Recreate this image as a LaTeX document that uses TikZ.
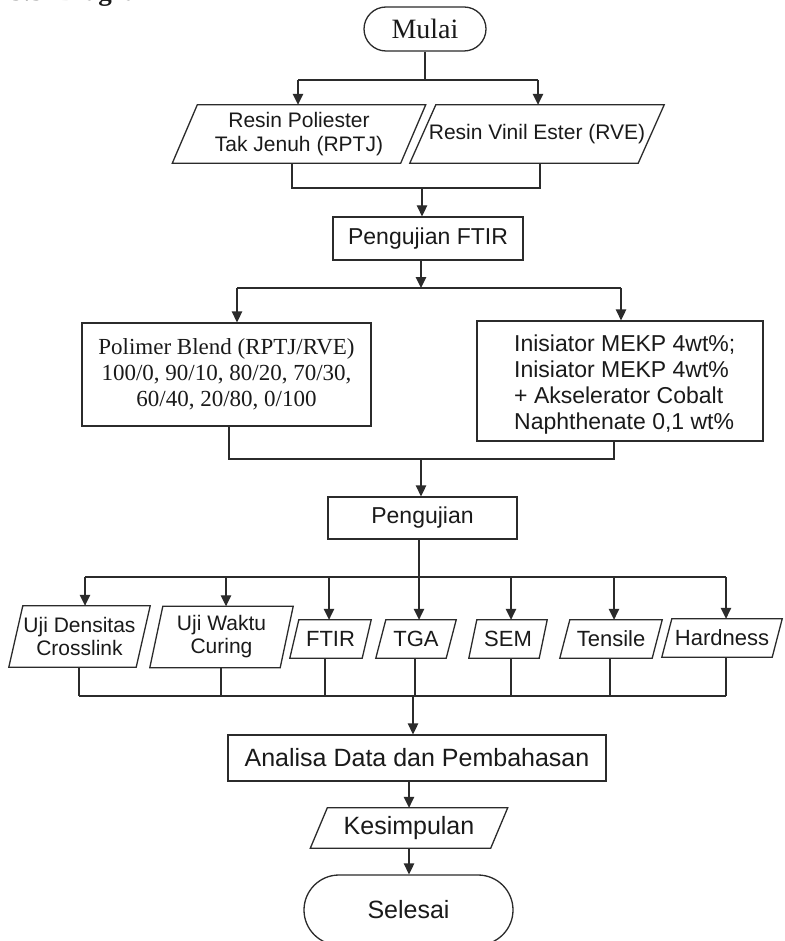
\documentclass[tikz,border=0pt]{standalone}
\usepackage{fontspec}
\setmainfont{Liberation Sans}
\newfontfamily\tnr{Liberation Serif}
\usetikzlibrary{arrows.meta,calc}
\definecolor{lc}{HTML}{2B2B2B}
\definecolor{tc}{HTML}{1A1A1A}
\newcommand\fsz[2]{\fontsize{#1}{#2}\selectfont}
\newcommand\pgram[2]{\draw[ln] ([xshift=#2*0.5pt]#1.north west) -- ([xshift=#2*0.5pt]#1.north east) -- ([xshift=-#2*0.5pt]#1.south east) -- ([xshift=-#2*0.5pt]#1.south west) -- cycle;}
\begin{document}
\begin{tikzpicture}[x=1pt,y=-1pt,
  ln/.style={line width=1.3pt,draw=lc},
  arr/.style={ln,-{Triangle[length=11pt,width=10.5pt]}},
  box/.style={draw=lc,line width=1.3pt,rectangle,inner sep=0pt,text=tc,align=center},
  term/.style={box},
  pg/.style={rectangle,inner sep=0pt,text=tc,align=center}]
\fill[white] (0,0) rectangle (784,941);
\useasboundingbox (0,0) rectangle (784,941);

% partially visible heading
\node[anchor=base west,inner sep=0pt,font=\tnr\bfseries\fsz{27}{30},text=tc] (head) at (10,0.5) {3.3\hspace{14pt}Diagram};

% nodes
\node[term,minimum width=122pt,minimum height=44pt,rounded corners=22pt,font=\tnr\fsz{28}{30}] (mulai) at (425,29) {Mulai};

\node[pg,minimum width=228pt,minimum height=58pt,font=\fsz{21}{24}] (p1) at (299,134) {Resin Poliester\\Tak Jenuh (RPTJ)};
\pgram{p1}{25}
\node[pg,minimum width=228pt,minimum height=58pt,font=\fsz{21}{24}] (p2) at (537,134) {Resin Vinil Ester (RVE)};
\pgram{p2}{26}

\node[box,minimum width=190pt,minimum height=43pt,font=\fsz{23}{26}] (ftir) at (428,238.5) {Pengujian FTIR};

\node[box,minimum width=289pt,minimum height=103pt,font=\tnr\fsz{23}{26}] (blend) at (226.5,374.5) {Polimer Blend (RPTJ/RVE)\\100/0, 90/10, 80/20, 70/30,\\60/40, 20/80, 0/100};
\node[box,minimum width=286pt,minimum height=120pt] (inis) at (620,381) {};
\node[anchor=west,inner sep=0pt,align=left,text=tc,font=\fsz{23}{26}] (inistext) at (514,385) {Inisiator MEKP 4wt\%;\\Inisiator MEKP 4wt\%\\+ Akselerator Cobalt\\Naphthenate 0,1 wt\%};

\node[box,minimum width=189pt,minimum height=42pt,font=\fsz{23}{26}] (peng) at (422.5,518) {Pengujian};

\node[pg,minimum width=127pt,minimum height=61pt,font=\fsz{21}{23}] (u1) at (79.5,636.5) {Uji Densitas\\Crosslink};
\pgram{u1}{14}
\node[pg,minimum width=130pt,minimum height=61pt,font=\fsz{21}{23}] (u2) at (221.5,637) {Uji Waktu\\Curing};
\pgram{u2}{13}
\node[pg,minimum width=72pt,minimum height=38pt,font=\fsz{22}{24}] (b3) at (330.5,639) {FTIR};
\pgram{b3}{9}
\node[pg,minimum width=70pt,minimum height=38pt,font=\fsz{22}{24}] (b4) at (416,639) {TGA};
\pgram{b4}{10}
\node[pg,minimum width=70pt,minimum height=38pt,font=\fsz{22}{24}] (b5) at (508,639) {SEM};
\pgram{b5}{8}
\node[pg,minimum width=92pt,minimum height=38pt,font=\fsz{22}{24}] (b6) at (611,639) {Tensile};
\pgram{b6}{10}
\node[pg,minimum width=110pt,minimum height=38pt,font=\fsz{22}{24}] (b7) at (722,638) {Hardness};
\pgram{b7}{10}

\node[box,minimum width=378pt,minimum height=46pt,font=\fsz{25}{28}] (anal) at (417,758) {Analisa Data dan Pembahasan};
\node[pg,minimum width=180pt,minimum height=40pt,font=\fsz{25}{28}] (kes) at (409,828) {Kesimpulan};
\pgram{kes}{17}
\node[term,minimum width=209pt,minimum height=70pt,rounded corners=35pt,font=\fsz{25}{28}] (sel) at (408.5,910) {Selesai};

% connectors: Mulai -> inputs
\coordinate (s1) at (425,80);
\coordinate (s1l) at (298,80);
\coordinate (s1r) at (538,80);
\draw[ln] (mulai.south) -- (s1);
\draw[ln] (s1l) -- (s1r);
\draw[arr] (s1l) -- (s1l |- p1.north);
\draw[arr] (s1r) -- (s1r |- p2.north);

% inputs -> Pengujian FTIR
\coordinate (m1l) at (292,188);
\coordinate (m1r) at (540,188);
\coordinate (m1c) at (422,188);
\draw[ln] (m1l |- p1.south) -- (m1l) -- (m1r) -- (m1r |- p2.south);
\draw[arr] (m1c) -- (m1c |- ftir.north);

% Pengujian FTIR -> blend / inisiator
\coordinate (s2c) at (421,288);
\coordinate (s2l) at (237,288);
\coordinate (s2r) at (621,288);
\draw[arr] (s2c |- ftir.south) -- (s2c);
\draw[ln] (s2l) -- (s2r);
\draw[arr] (s2l) -- (s2l |- blend.north);
\draw[arr] (s2r) -- (s2r |- inis.north);

% blend / inisiator -> Pengujian
\coordinate (m2l) at (229,459);
\coordinate (m2r) at (614,459);
\coordinate (m2c) at (421,459);
\draw[ln] (m2l |- blend.south) -- (m2l) -- (m2r) -- (m2r |- inis.south);
\draw[arr] (m2c) -- (m2c |- peng.north);

% Pengujian -> tests
\coordinate (s3c) at (419,577);
\draw[ln] (s3c |- peng.south) -- (s3c);
\foreach \n/\x in {u1/85,u2/226,b3/329,b4/419,b5/511,b6/614,b7/726}{
  \coordinate (t\n) at (\x,577);
  \draw[arr] (t\n) -- (t\n |- \n.north);
}
\draw[ln] (tu1) -- (tb7);

% tests -> Analisa
\foreach \n/\x in {u1/79,u2/221,b3/325,b4/415,b5/511,b6/610,b7/726}{
  \coordinate (d\n) at (\x,696);
  \draw[ln] (d\n |- \n.south) -- (d\n);
}
\draw[ln] (du1) -- (db7);
\coordinate (m3c) at (413,696);
\draw[arr] (m3c) -- (m3c |- anal.north);

% Analisa -> Kesimpulan -> Selesai
\draw[arr] (anal.south -| kes.north) -- (kes.north);
\draw[arr] (kes.south) -- (kes.south |- sel.north);
\end{tikzpicture}
\end{document}
